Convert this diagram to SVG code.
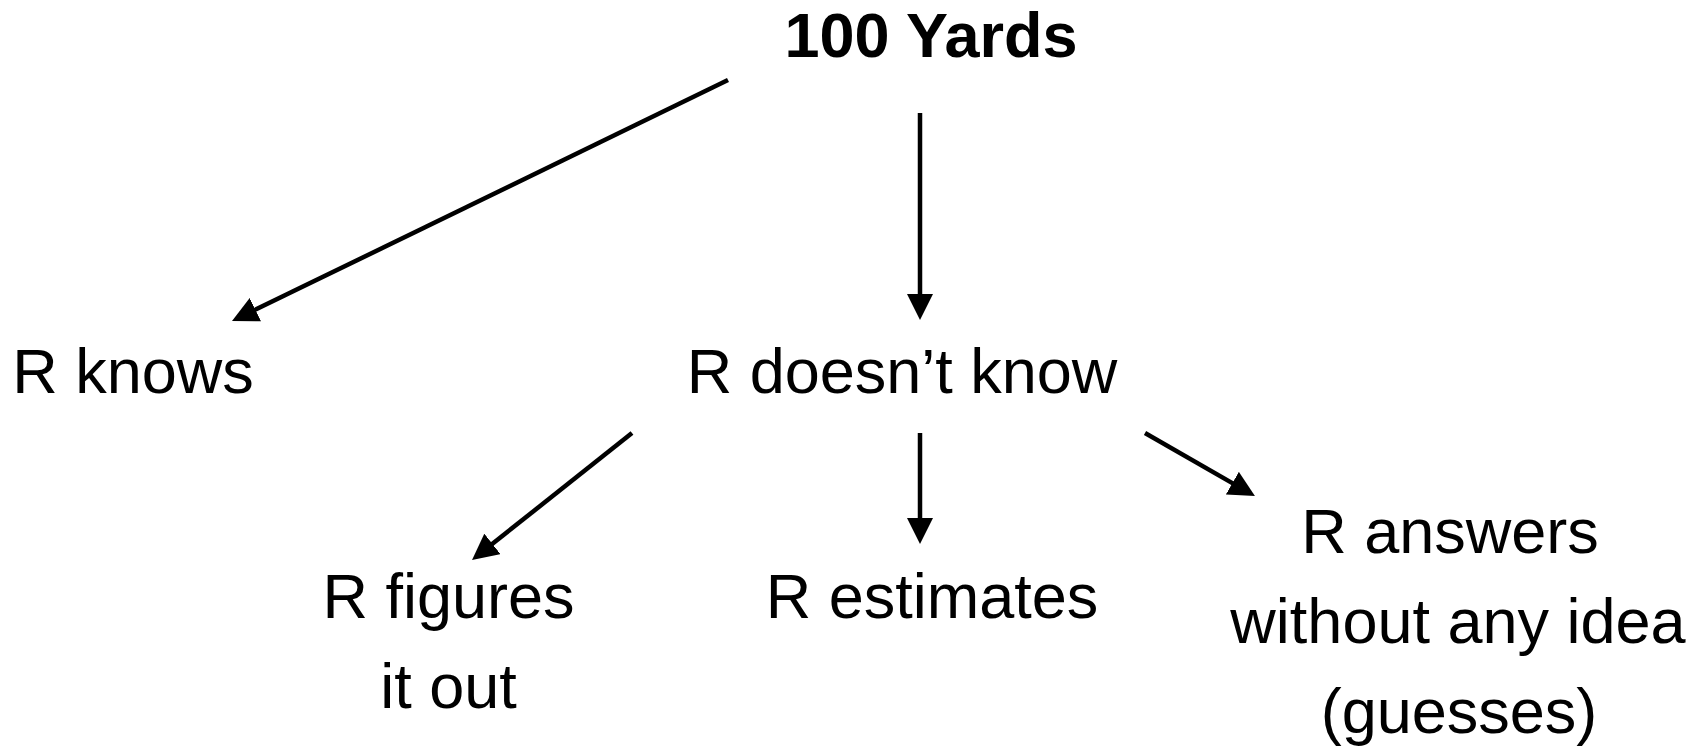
<svg xmlns="http://www.w3.org/2000/svg" width="1708" height="748" viewBox="0 0 1708 748">
<style>
  text { font-family: "Liberation Sans", Arial, sans-serif; fill: #000; }
  .t { font-size: 63px; text-anchor: middle; }
  .title { font-size: 63px; font-weight: bold; text-anchor: middle; }
  .edge { stroke: #000; stroke-width: 4.5; fill: none; marker-end: url(#ah); }
</style>
<defs>
  <marker id="ah" markerUnits="userSpaceOnUse" markerWidth="26" markerHeight="26" viewBox="0 0 26 26" refX="6" refY="13" orient="auto">
    <path d="M0,0 L26,13 L0,26 Z" fill="#000"/>
  </marker>
</defs>
<rect width="1708" height="748" fill="#fff"/>
<g id="connectors">
  <line class="edge" x1="728" y1="80" x2="250" y2="312.3"/>
  <line class="edge" x1="920" y1="113" x2="920" y2="300"/>
  <line class="edge" x1="632" y1="433" x2="487.7" y2="547.6"/>
  <line class="edge" x1="920" y1="433" x2="920" y2="524"/>
  <line class="edge" x1="1145" y1="433" x2="1237.6" y2="486.1"/>
</g>
<g id="node-100yards"><text class="title" x="931" y="57">100 Yards</text></g>
<g id="node-knows"><text class="t" x="133" y="393">R knows</text></g>
<g id="node-doesnt-know"><text class="t" x="902" y="393">R doesn’t know</text></g>
<g id="node-figures"><text class="t" x="448.5" y="618">R figures</text><text class="t" x="448.5" y="708">it out</text></g>
<g id="node-estimates"><text class="t" x="932" y="618">R estimates</text></g>
<g id="node-guesses"><text class="t" x="1450" y="553">R answers</text><text class="t" x="1458" y="643">without any idea</text><text class="t" x="1459" y="733">(guesses)</text></g>
</svg>
